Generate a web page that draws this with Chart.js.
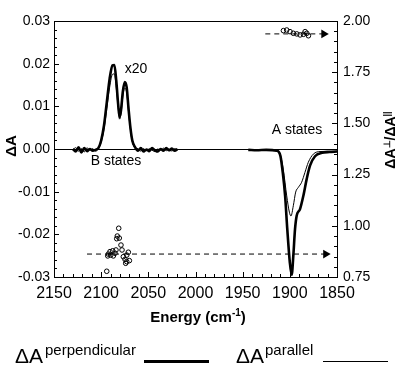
<!DOCTYPE html>
<html><head><meta charset="utf-8">
<script src="https://cdn.jsdelivr.net/npm/chart.js@4.4.1/dist/chart.umd.min.js"></script>
<style>
html,body{margin:0;padding:0;background:#fff;}
#wrap{position:relative;width:401px;height:366px;overflow:hidden;background:#fff;}
canvas{position:absolute;left:0;top:0;}
.t{position:absolute;font-family:'Liberation Sans',Arial,sans-serif;color:#000;line-height:1;white-space:nowrap;}
</style></head><body>
<div id="wrap">
<canvas id="c" width="401" height="366"></canvas>
<span class="t" style="left:15px;top:345px;font-size:21px;">ΔA</span>
<span class="t" style="left:45px;top:342px;font-size:15px;">perpendicular</span>
<div style="position:absolute;left:144px;top:360px;width:65px;height:3px;background:#000;"></div>
<span class="t" style="left:236px;top:345px;font-size:21px;">ΔA</span>
<span class="t" style="left:265px;top:342px;font-size:15px;">parallel</span>
<div style="position:absolute;left:323px;top:361px;width:65px;height:1px;background:#000;"></div>
</div>
<script>
// ---- data ----
const bPerpEnergy = [2130,2127,2124,2121,2118,2115,2112,2109,2106,2103,2100,2097,2094,2091,2088,2086,2084,2082,2080.5,2079,2077,2075,2073,2071,2069,2067,2064,2061,2058,2055,2052,2049,2046,2043,2040,2037,2034,2031,2028,2025,2022,2019];
const bPerpValue  = [0.0000,-0.0006,0.0004,-0.0008,0.0002,-0.0005,0.0000,-0.0004,-0.0002,0.0002,0.0020,0.0055,0.0110,0.0165,0.0196,0.0197,0.0160,0.0105,0.0075,0.0090,0.0135,0.0157,0.0145,0.0095,0.0050,0.0020,0.0004,-0.0004,0.0002,-0.0006,-0.0001,-0.0005,0.0002,-0.0003,-0.0006,0.0000,-0.0004,0.0002,-0.0003,0.0001,-0.0004,0.0000];
const bParEnergy  = [2130,2127,2124,2121,2118,2115,2112,2109,2106,2103,2100,2097,2094,2091,2088,2086,2084,2082,2080.5,2079,2077,2075,2073,2071,2069,2067,2064,2061,2058,2055,2052,2049,2046,2043,2040,2037,2034,2031,2028,2025,2022,2019];
const bParValue   = [-0.0002,0.0003,-0.0005,0.0001,-0.0007,0.0003,-0.0003,0.0001,-0.0005,0.0000,0.0016,0.0046,0.0095,0.0145,0.0175,0.0176,0.0143,0.0097,0.0070,0.0082,0.0124,0.0143,0.0132,0.0087,0.0045,0.0017,0.0003,0.0001,-0.0005,0.0001,-0.0004,0.0001,-0.0003,-0.0006,0.0000,-0.0003,0.0002,-0.0004,0.0000,-0.0005,0.0001,-0.0002];
const aPerpEnergy = [1944,1935,1925,1914,1910,1907.5,1905,1902.7,1900,1898,1896.3,1894.5,1892.7,1889.2,1885.7,1882.1,1878.6,1873.3,1866,1858,1850];
const aPerpValue  = [-0.0002,-0.0003,-0.0002,-0.0004,-0.0016,-0.0055,-0.0110,-0.0188,-0.0266,-0.0295,-0.0250,-0.0188,-0.0156,-0.0141,-0.0110,-0.0070,-0.0039,-0.0017,-0.0009,-0.0007,-0.0006];
const aParEnergy  = [1944,1925,1914,1910,1907,1903.3,1900.5,1898.8,1896.3,1893.8,1891,1887.5,1884,1880.4,1875.1,1868,1850];
const aParValue   = [-0.0002,-0.0002,-0.0004,-0.0015,-0.0047,-0.0110,-0.0148,-0.0157,-0.0133,-0.0101,-0.0090,-0.0078,-0.0055,-0.0031,-0.0012,-0.0006,-0.0005];
const ratioBEnergy = [2081.4,2082.9,2080.8,2083.5,2079,2077.9,2090.6,2087.8,2084.3,2092.4,2089.9,2087.1,2085.3,2093,2071.2,2072.9,2076.5,2074.7,2072.9,2070.1,2074,2094.1];
const ratioBValue  = [0.988,0.950,0.940,0.937,0.906,0.882,0.874,0.878,0.882,0.862,0.857,0.853,0.866,0.853,0.871,0.857,0.849,0.836,0.825,0.830,0.817,0.778];
const ratioAEnergy = [1906.8,1903.3,1899.8,1896.3,1892.6,1889.1,1885.6,1882.0,1880.3,1883.8];
const ratioAValue  = [1.953,1.956,1.948,1.940,1.937,1.932,1.935,1.940,1.928,1.948];
const arrowBEnergy = [2115,1862];
const arrowBValue  = [0.862,0.862];
const arrowAEnergy = [1926,1864];
const arrowAValue  = [1.937,1.937];
const xTickStep = 50, yTickStep = 0.01, y2TickStep = 0.25;

const pts = (xs, ys) => xs.map((x, i) => ({x, y: ys[i]}));
const FONT = "'Liberation Sans', Arial, sans-serif";
Chart.defaults.font.family = FONT;
Chart.defaults.color = '#000';

const frame = {
  id: 'frame',
  afterDraw(chart) {
    const {ctx, chartArea: a, scales} = chart;
    ctx.save();
    ctx.strokeStyle = '#000';
    ctx.lineWidth = 1;
    ctx.strokeRect(a.left + 0.5, a.top + 0.5, a.right - a.left, a.bottom - a.top);
    const seg = (x1, y1, x2, y2) => { ctx.beginPath(); ctx.moveTo(x1, y1); ctx.lineTo(x2, y2); ctx.stroke(); };
    for (let i = 0; i <= 30; i++) {
      const e = 1850 + i * 10;
      const px = Math.round(scales.x.getPixelForValue(e)) + 0.5;
      seg(px, a.bottom, px, a.bottom - (i % 5 === 0 ? 5 : 3));
    }
    for (let i = -15; i <= 15; i++) {
      const py = Math.round(scales.y.getPixelForValue(i * 0.002)) + 0.5;
      seg(a.left, py, a.left + (i % 5 === 0 ? 5 : 3), py);
    }
    for (let i = 0; i <= 25; i++) {
      const py = Math.round(scales.y2.getPixelForValue(0.75 + i * 0.05)) + 0.5;
      seg(a.right, py, a.right - (i % 5 === 0 ? 5 : 3), py);
    }
    // annotation text
    ctx.fillStyle = '#000';
    ctx.textBaseline = 'middle';
    ctx.textAlign = 'center';
    ctx.font = '14px ' + FONT;
    ctx.fillText('x20', 136, 69);
    ctx.fillText('B states', 116, 161);
    ctx.fillText('A states', 297, 130);
    // x title with superscript
    ctx.textBaseline = 'alphabetic';
    ctx.textAlign = 'left';
    const f1 = 'bold 15px ' + FONT, f2 = 'bold 10px ' + FONT;
    ctx.font = f1; const w1 = ctx.measureText('Energy (cm').width, w3 = ctx.measureText(')').width;
    ctx.font = f2; const w2 = ctx.measureText('-1').width;
    let x0 = 198 - (w1 + w2 + w3) / 2, by = 322;
    ctx.font = f1; ctx.fillText('Energy (cm', x0, by);
    ctx.font = f2; ctx.fillText('-1', x0 + w1, by - 6);
    ctx.font = f1; ctx.fillText(')', x0 + w1 + w2, by);
    // left title
    ctx.save();
    ctx.translate(16, 146); ctx.rotate(-Math.PI / 2);
    ctx.font = 'bold 15px ' + FONT; ctx.textAlign = 'center';
    ctx.fillText('ΔA', 0, 0);
    ctx.restore();
    // right title
    ctx.save();
    ctx.translate(395, 140); ctx.rotate(-Math.PI / 2);
    const parts = [['ΔA', 'bold 14px ', 0], ['⊥', 'bold 9px ', -5], ['/ΔA', 'bold 14px ', 0], ['||', 'bold 9px ', -5]];
    let tw = 0;
    parts.forEach(p => { ctx.font = p[1] + FONT; p.push(ctx.measureText(p[0]).width); tw += p[3]; });
    let cx = -tw / 2;
    parts.forEach(p => { ctx.font = p[1] + FONT; ctx.fillText(p[0], cx, p[2]); cx += p[3]; });
    ctx.restore();
    ctx.restore();
  }
};

const lineDs = (data, w) => ({
  type: 'line', data, yAxisID: 'y', borderColor: '#000', borderWidth: w,
  pointRadius: 0, cubicInterpolationMode: 'monotone', fill: false
});
const arrowDs = (data) => ({
  type: 'line', data, yAxisID: 'y2', borderColor: '#000', borderWidth: 1, borderDash: [5, 4],
  pointRadius: [0, 5], pointStyle: 'triangle', rotation: 90,
  pointBackgroundColor: '#000', pointBorderColor: '#000', pointBorderWidth: 0, fill: false
});
const scatDs = (data) => ({
  type: 'scatter', data, yAxisID: 'y2', pointRadius: 2.3, pointBorderWidth: 1,
  pointBorderColor: '#000', pointBackgroundColor: 'rgba(255,255,255,0)'
});

new Chart(document.getElementById('c'), {
  data: {
    datasets: [
      arrowDs(pts(arrowBEnergy, arrowBValue)),
      arrowDs(pts(arrowAEnergy, arrowAValue)),
      scatDs(pts(ratioBEnergy, ratioBValue)),
      scatDs(pts(ratioAEnergy, ratioAValue)),
      lineDs(pts(bPerpEnergy, bPerpValue), 2.6),
      lineDs(pts(bParEnergy, bParValue), 1),
      lineDs(pts(aPerpEnergy, aPerpValue), 2.6),
      lineDs(pts(aParEnergy, aParValue), 1)
    ]
  },
  options: {
    responsive: false, animation: false, devicePixelRatio: 1,
    layout: {padding: {top: 21, left: 0, right: 0, bottom: 0}},
    plugins: {legend: {display: false}, tooltip: {enabled: false}},
    scales: {
      x: {
        type: 'linear', position: 'bottom', reverse: true, min: 1850, max: 2150,
        ticks: {stepSize: xTickStep, padding: 7, font: {size: 16}, callback: v => String(v), maxRotation: 0},
        grid: {display: false, drawTicks: false}, border: {display: false},
        afterFit: s => { s.height = 89; }
      },
      y: {
        type: 'linear', position: 'left', min: -0.03, max: 0.03,
        ticks: {stepSize: yTickStep, padding: 4, font: {size: 14}, callback: v => (Math.abs(v) < 1e-9 ? 0 : v).toFixed(2)},
        grid: {drawOnChartArea: true, drawTicks: false, lineWidth: 1,
               color: c => (c.tick && Math.abs(c.tick.value) < 1e-9) ? '#000' : 'rgba(0,0,0,0)'},
        border: {display: false},
        afterFit: s => { s.width = 54; }
      },
      y2: {
        type: 'linear', position: 'right', min: 0.75, max: 2.0,
        ticks: {stepSize: y2TickStep, padding: 6, font: {size: 14}, callback: v => v.toFixed(2)},
        grid: {display: false, drawTicks: false}, border: {display: false},
        afterFit: s => { s.width = 64; }
      }
    }
  },
  plugins: [frame]
});
</script>
</body></html>
